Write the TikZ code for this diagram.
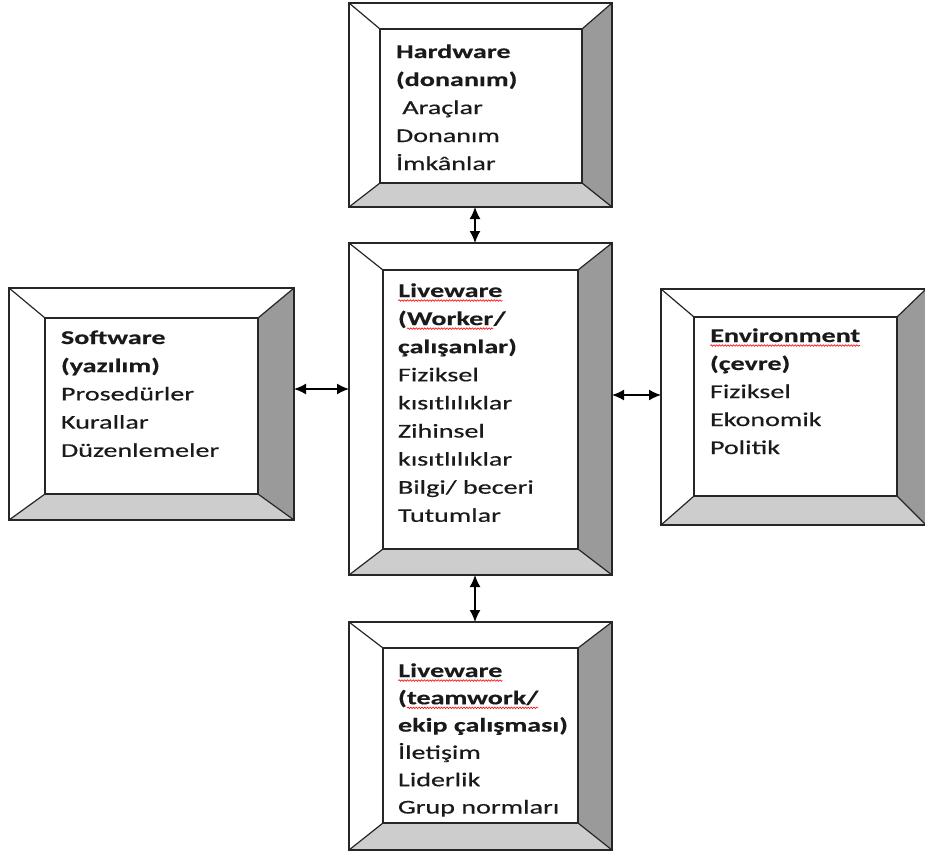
\documentclass[tikz,border=0pt]{standalone}
\usepackage{fontspec}
\setmainfont{Carlito}[FakeStretch=1.44, UprightFeatures={FakeBold=0.4}, BoldFeatures={FakeBold=0.3}]
\usetikzlibrary{arrows.meta,decorations.pathmorphing,fit}

\definecolor{bevelside}{HTML}{9A9A9A}
\definecolor{bevelbottom}{HTML}{CDCDCD}
\definecolor{inkdark}{HTML}{1A1A1A}

\tikzset{
  boxline/.style={line width=1.2pt, draw=black!85},
  label/.style={anchor=base west, inner sep=0pt, outer sep=0pt, text=inkdark,
                font=\fontsize{19.5}{28}\selectfont},
  link/.style={line width=1.5pt, {Latex[length=12pt,width=11pt]}-{Latex[length=12pt,width=11pt]}},
  spell/.style={draw=red, line width=0.6pt, decorate,
                decoration={snake, amplitude=0.8pt, segment length=2.8pt}}
}

% red wavy underline under a word
\newcommand\wavy[1]{\tikz[baseline=(wv.base)]{%
  \node[anchor=base, inner sep=0pt, outer sep=0pt] (wv) {#1};
  \draw[spell] ([yshift=-3.5pt]wv.base west) -- ([yshift=-3.5pt]wv.base east);}}

% bevelled frame: name, outer x1 y1 x2 y2, inner x1 y1 x2 y2
\newcommand\bevelbox[9]{%
  \fill[white] (#2,#3) rectangle (#4,#5);
  \fill[bevelside] (#4,#3) -- (#8,#7) -- (#8,#9) -- (#4,#5) -- cycle;
  \fill[bevelbottom] (#2,#5) -- (#6,#9) -- (#8,#9) -- (#4,#5) -- cycle;
  \draw[boxline] (#2,#3) -- (#6,#7) (#4,#3) -- (#8,#7)
                 (#2,#5) -- (#6,#9) (#4,#5) -- (#8,#9);
  \draw[boxline] (#6,#7) rectangle (#8,#9);
  \coordinate (#1-nw) at (#2,#3);
  \coordinate (#1-se) at (#4,#5);
  \node[boxline, draw, inner sep=0pt, outer sep=0pt, fit=(#1-nw)(#1-se)] (#1) {};
}

\begin{document}
\begin{tikzpicture}[x=1pt, y=-1pt]
\useasboundingbox (0,0) rectangle (925,852);

% frames
\bevelbox{hw}{349}{3}{612}{207}{380}{29}{582}{183}
\bevelbox{lw}{349}{243}{612}{575}{383}{270}{578}{549}
\bevelbox{sw}{9}{288}{294}{520}{45}{318}{258}{494}
\bevelbox{env}{661}{289}{926}{525}{694}{317}{897}{496}
\bevelbox{team}{349}{622}{612}{850}{383}{648}{578}{823}

% texts
\foreach \t [count=\i] in {{\bfseries Hardware},{\bfseries (donanım)},\ Araçlar,Donanım,İmkânlar}
  \node[label] (hw-\i) at (396,{58+28*(\i-1)}) {\t};

\foreach \t [count=\i] in {{\bfseries\wavy{Liveware}},{\bfseries (\wavy{Worker}/},{\bfseries çalışanlar)},
    Fiziksel,kısıtlılıklar,Zihinsel,kısıtlılıklar,Bilgi/ beceri,Tutumlar}
  \node[label] (lw-\i) at (398,{297+28.1*(\i-1)}) {\t};

\foreach \t [count=\i] in {{\bfseries Software},{\bfseries (yazılım)},Prosedürler,Kurallar,Düzenlemeler}
  \node[label] (sw-\i) at (61,{344+28.2*(\i-1)}) {\t};

\foreach \t [count=\i] in {{\bfseries\wavy{Environment}},{\bfseries (çevre)},Fiziksel,Ekonomik,Politik}
  \node[label] (env-\i) at (710,{342+28*(\i-1)}) {\t};

\foreach \t [count=\i] in {{\bfseries\wavy{Liveware}},{\bfseries (\wavy{teamwork/}},{\bfseries ekip çalışması)},
    İletişim,Liderlik,Grup normları}
  \node[label] (team-\i) at (398,{677+27.3*(\i-1)}) {\t};

% connectors
\coordinate (vx) at (475,0);
\coordinate (hy1) at (0,389);
\coordinate (hy2) at (0,395);
\draw[link] (hw.south -| vx) -- (lw.north -| vx);
\draw[link] (lw.south -| vx) -- (team.north -| vx);
\draw[link] (sw.east |- hy1) -- (lw.west |- hy1);
\draw[link] (lw.east |- hy2) -- (env.west |- hy2);
\end{tikzpicture}
\end{document}
